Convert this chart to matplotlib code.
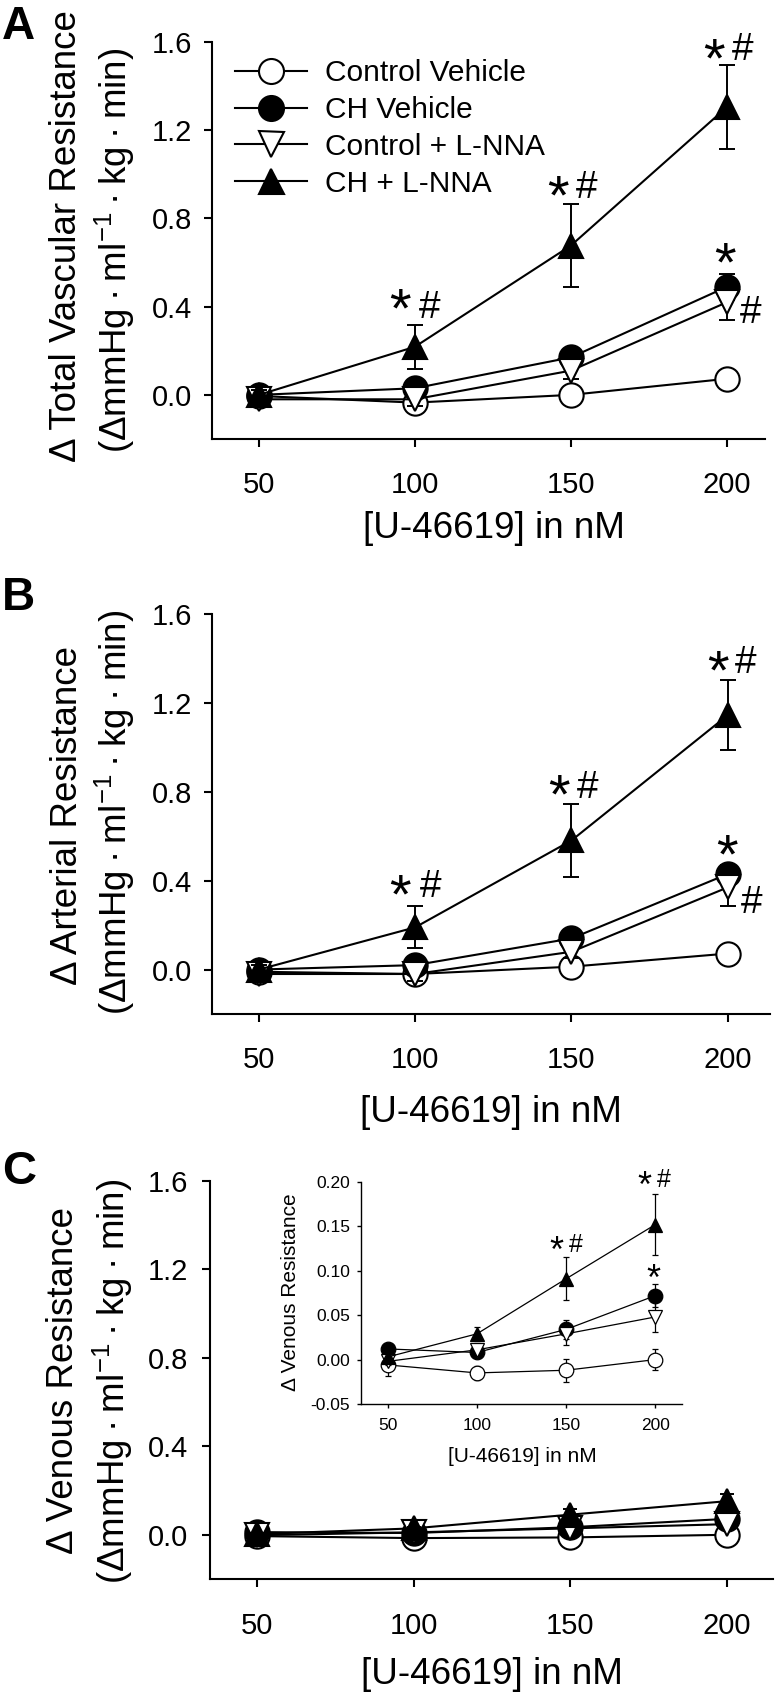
import matplotlib
matplotlib.use("Agg")
import matplotlib.pyplot as plt
from matplotlib.lines import Line2D
from matplotlib.transforms import offset_copy

W, H = 777, 1700
FONT = ["Liberation Sans", "DejaVu Sans"]

plt.rcParams["font.family"] = FONT
plt.rcParams["mathtext.fontset"] = "custom"
plt.rcParams["mathtext.rm"] = "Liberation Sans"

# ---- data ----
doses = [50, 100, 150, 200]
series_names = ["Control Vehicle", "CH Vehicle", "Control + L-NNA", "CH + L-NNA"]

# A: total vascular resistance
tvr_ctrl_veh = [-0.005, -0.035, 0.0, 0.073]
tvr_ch_veh = [0.0, 0.03, 0.17, 0.49]
tvr_ctrl_lnna = [-0.02, -0.02, 0.11, 0.42]
tvr_ch_lnna = [0.0, 0.218, 0.677, 1.305]
tvr_ctrl_veh_err = [0.02, 0.02, 0.02, 0.02]
tvr_ch_veh_err = [0.02, 0.03, 0.04, 0.06]
tvr_ctrl_lnna_err = [0.02, 0.03, 0.04, 0.08]
tvr_ch_lnna_err = [0.02, 0.10, 0.19, 0.19]

# B: arterial resistance
art_ctrl_veh = [-0.01, -0.02, 0.013, 0.072]
art_ch_veh = [0.0, 0.02, 0.14, 0.43]
art_ctrl_lnna = [-0.02, -0.02, 0.08, 0.37]
art_ch_lnna = [0.0, 0.19, 0.581, 1.145]
art_ctrl_veh_err = [0.02, 0.02, 0.02, 0.02]
art_ch_veh_err = [0.02, 0.03, 0.03, 0.04]
art_ctrl_lnna_err = [0.02, 0.03, 0.03, 0.083]
art_ch_lnna_err = [0.02, 0.094, 0.165, 0.157]

# C: venous resistance (main + inset)
ven_ctrl_veh = [-0.006, -0.015, -0.012, 0.0]
ven_ch_veh = [0.012, 0.008, 0.034, 0.072]
ven_ctrl_lnna = [-0.002, 0.011, 0.029, 0.048]
ven_ch_lnna = [0.003, 0.029, 0.091, 0.152]
ven_ctrl_veh_err = [0.013, 0.008, 0.013, 0.012]
ven_ch_veh_err = [0.004, 0.006, 0.011, 0.013]
ven_ctrl_lnna_err = [0.004, 0.006, 0.012, 0.017]
ven_ch_lnna_err = [0.004, 0.008, 0.024, 0.034]

# significance marks: (symbol, dose, value)
marks_a = [("*", 95.2, 0.453), ("#", 104.8, 0.408),
           ("*", 146, 0.965), ("#", 155.2, 0.952),
           ("*", 195.8, 1.59), ("#", 205.2, 1.58),
           ("*", 199.4, 0.662), ("#", 207.7, 0.385)]
marks_b = [("*", 95.2, 0.398), ("#", 104.8, 0.385),
           ("*", 146, 0.851), ("#", 155.2, 0.833),
           ("*", 196.8, 1.407), ("#", 205.8, 1.394),
           ("*", 199.7, 0.579), ("#", 207.7, 0.317)]
marks_inset = [("*", 144.3, 0.1335), ("#", 155.5, 0.1316),
               ("*", 193.8, 0.2066), ("#", 204.7, 0.2048),
               ("*", 198.7, 0.1016)]

main_yticks = [0.0, 0.4, 0.8, 1.2, 1.6]
inset_yticks = [-0.05, 0.0, 0.05, 0.10, 0.15, 0.20]

styles = [("o", "white"), ("o", "black"), ("v", "white"), ("^", "black")]
YLAB2 = "(ΔmmHg\u2009·\u2009ml$^{-1}$\u2009·\u2009kg\u2009·\u2009min)"


def add_axes_px(left, top, right, bottom):
    return fig.add_axes([left / W, 1 - bottom / H, (right - left) / W, (bottom - top) / H])


def ftext(x, y, s, **kw):
    fig.text(x / W, 1 - y / H, s, ha="center", va="center", **kw)


def plot_series(ax, vals, errs, ms, lw, mew, capsize, elw):
    for i, (y, e) in enumerate(zip(vals, errs)):
        marker, face = styles[i]
        z = 3 + i
        ax.errorbar(doses, y, yerr=e, fmt="none", ecolor="black", elinewidth=elw,
                    capsize=capsize, capthick=elw, zorder=z - 0.5, clip_on=False)
        ax.plot(doses, y, color="black", lw=lw, marker=marker, ms=ms, mfc=face,
                mec="black", mew=mew, zorder=z, clip_on=False)


def draw_marks(ax, marks, star_fs, hash_fs):
    # place ink centres of '*' and '#' at the given points
    for sym, x, y in marks:
        if sym == "*":
            tr = offset_copy(ax.transData, fig=fig, y=-0.32 * star_fs, units="points")
            fs = star_fs
        else:
            tr = offset_copy(ax.transData, fig=fig, y=-0.09 * hash_fs, units="points")
            fs = hash_fs
        ax.text(x, y, sym, transform=tr, ha="center", va="center", fontsize=fs, zorder=10)


def style_axes(ax, fs, spine_w, tick_len, padx, pady, yticks, yfmt, xlim, ylim):
    for s in ["top", "right"]:
        ax.spines[s].set_visible(False)
    for s in ["left", "bottom"]:
        ax.spines[s].set_linewidth(spine_w)
    ax.set_xlim(*xlim)
    ax.set_ylim(*ylim)
    ax.set_xticks(doses, [str(d) for d in doses], fontsize=fs)
    ax.set_yticks(yticks, [yfmt.format(v) for v in yticks], fontsize=fs)
    ax.tick_params(direction="out", length=tick_len, width=spine_w)
    ax.tick_params(axis="x", pad=padx)
    ax.tick_params(axis="y", pad=pady)
    ax.patch.set_alpha(0)


fig = plt.figure(figsize=(W / 100, H / 100), dpi=100)

# ---------- panel A ----------
axA = add_axes_px(212, 42, 765, 439)
plot_series(axA, [tvr_ctrl_veh, tvr_ch_veh, tvr_ctrl_lnna, tvr_ch_lnna],
            [tvr_ctrl_veh_err, tvr_ch_veh_err, tvr_ctrl_lnna_err, tvr_ch_lnna_err],
            17.5, 1.5, 1.5, 6, 1.4)
style_axes(axA, 21, 1.5, 6, 17, 8.5, main_yticks, "{:.1f}", (35, 212.2), (-0.2, 1.6))
draw_marks(axA, marks_a, 40, 28)

handles = [Line2D([], [], color="black", lw=1.5, marker=m, ms=18, mfc=f, mec="black", mew=1.5)
           for m, f in styles]
axA.legend(handles, series_names, loc="upper left", bbox_to_anchor=(235 / W, 1 - 59 / H),
           bbox_transform=fig.transFigure, frameon=False, prop={"size": 21.5},
           handlelength=2.4, handletextpad=0.6, labelspacing=0.3, borderpad=0,
           borderaxespad=0, numpoints=1)

ftext(18, 27, "A", fontsize=33, fontweight="bold")
ftext(67, 236, "Δ Total Vascular Resistance", rotation=90, fontsize=26.5)
ftext(115, 250, YLAB2, rotation=90, fontsize=26.5)
ftext(494, 529, "[U-46619] in nM", fontsize=26.5)

# ---------- panel B ----------
axB = add_axes_px(212, 614, 770, 1014)
plot_series(axB, [art_ctrl_veh, art_ch_veh, art_ctrl_lnna, art_ch_lnna],
            [art_ctrl_veh_err, art_ch_veh_err, art_ctrl_lnna_err, art_ch_lnna_err],
            17.5, 1.5, 1.5, 6, 1.4)
style_axes(axB, 21, 1.5, 6, 17, 8.5, main_yticks, "{:.1f}", (35, 213.5), (-0.2, 1.6))
draw_marks(axB, marks_b, 40, 28)

ftext(18, 598, "B", fontsize=33, fontweight="bold")
ftext(68, 815, "Δ Arterial Resistance", rotation=90, fontsize=26.5)
ftext(115, 812, YLAB2, rotation=90, fontsize=26.5)
ftext(491, 1112, "[U-46619] in nM", fontsize=26.5)

# ---------- panel C ----------
ven_vals = [ven_ctrl_veh, ven_ch_veh, ven_ctrl_lnna, ven_ch_lnna]
ven_errs = [ven_ctrl_veh_err, ven_ch_veh_err, ven_ctrl_lnna_err, ven_ch_lnna_err]

axC = add_axes_px(210, 1181, 773, 1579)
plot_series(axC, ven_vals, ven_errs, 17.5, 1.5, 1.5, 5, 1.4)
style_axes(axC, 21, 1.5, 6, 18, 10, main_yticks, "{:.1f}", (35, 214.7), (-0.2, 1.6))

ftext(19, 1172, "C", fontsize=34, fontweight="bold")
ftext(64, 1381, "Δ Venous Resistance", rotation=90, fontsize=26.5)
ftext(113, 1381, YLAB2, rotation=90, fontsize=26.5)
ftext(492, 1675, "[U-46619] in nM", fontsize=26.5)

# inset
axI = add_axes_px(361, 1182, 682, 1404)
plot_series(axI, ven_vals, ven_errs, 10.5, 0.9, 0.9, 2.5, 0.9)
style_axes(axI, 12.5, 1.0, 3, 7, 5, inset_yticks, "{:.2f}", (35, 215), (-0.05, 0.20))
draw_marks(axI, marks_inset, 26, 18)
ftext(290, 1292, "Δ Venous Resistance", rotation=90, fontsize=15)
ftext(522, 1457, "[U-46619] in nM", fontsize=15)

fig.savefig("out.png", dpi=100)
